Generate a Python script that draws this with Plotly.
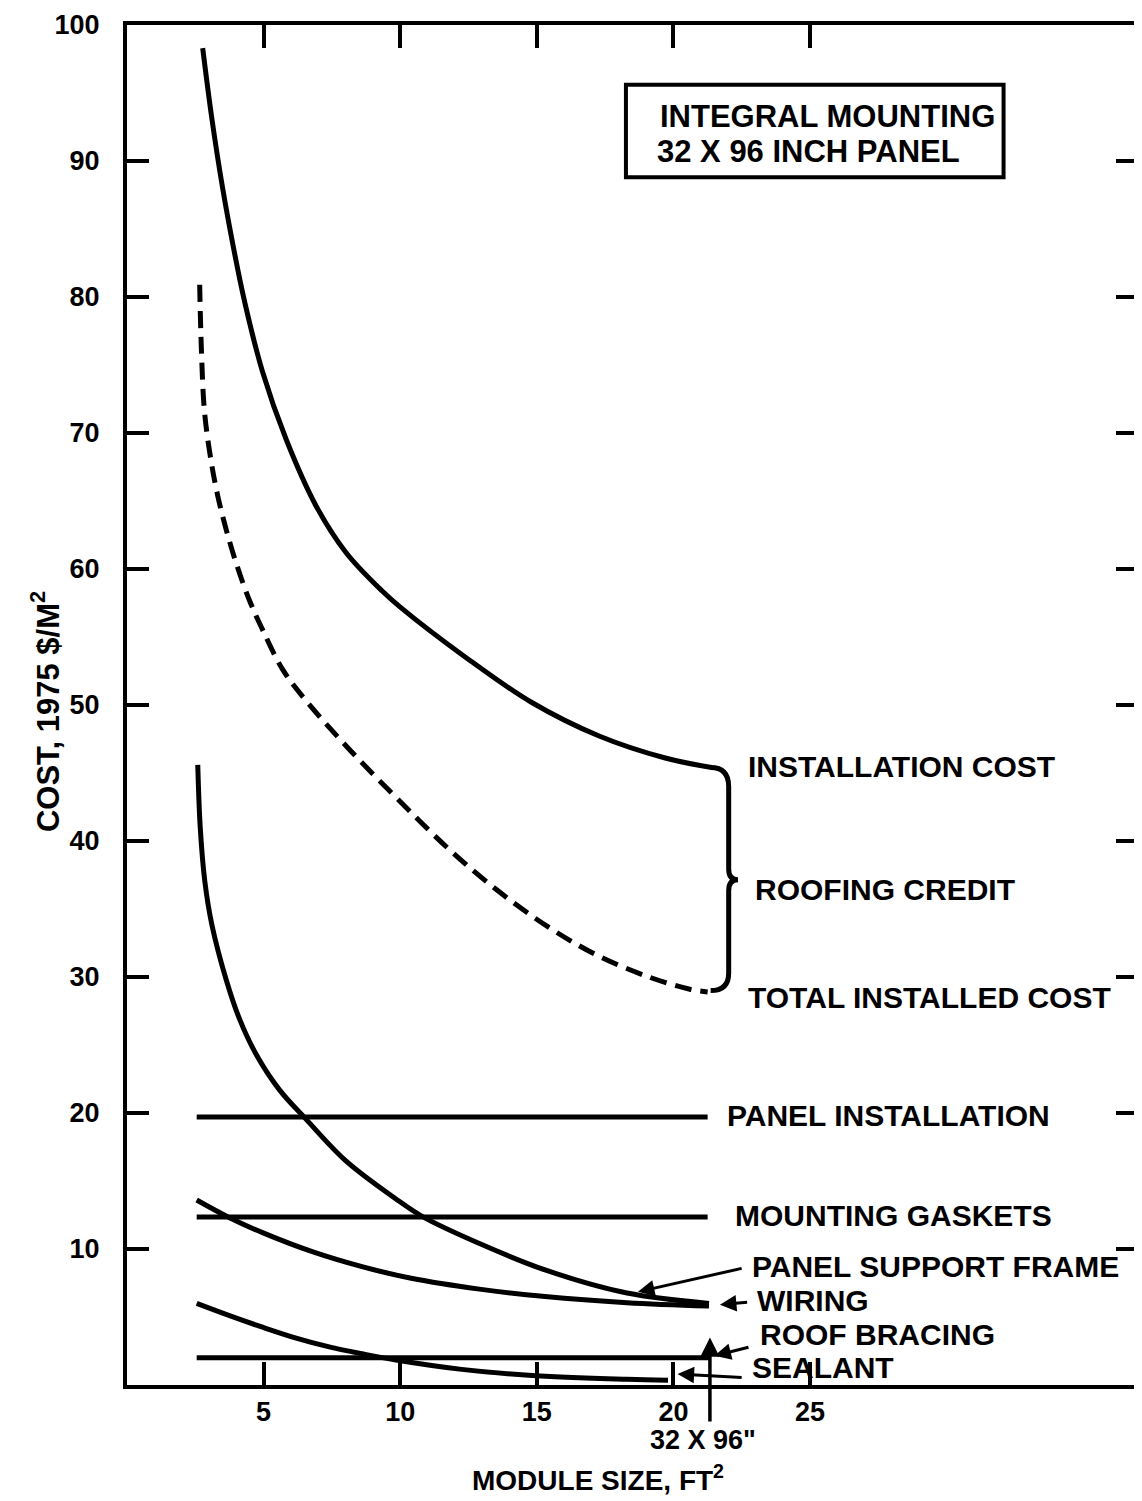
import plotly.graph_objects as go

# ---------------- data ----------------
install_x = [2.77, 3.1, 3.5, 3.9, 4.3, 4.96, 5.83, 6.93, 8.02, 9.33, 10.0, 12.4, 14.8, 17.3, 19.7, 21.4]
install_y = [98.3, 93.2, 88.0, 83.6, 79.7, 74.5, 69.5, 64.6, 61.2, 58.4, 57.2, 53.5, 50.2, 47.7, 46.1, 45.4]

total_x = [2.66, 2.72, 2.84, 3.09, 3.33, 3.63, 4.0, 4.48, 4.97, 5.7, 6.56, 8.2, 9.95, 11.78, 13.6, 15.4, 17.2, 19.1, 20.6, 21.25]
total_y = [80.9, 76.3, 71.5, 67.8, 65.3, 62.9, 60.4, 57.7, 55.5, 52.6, 50.3, 46.6, 43.0, 39.4, 36.3, 33.7, 31.6, 30.0, 29.1, 28.9]

frame_x = [2.59, 2.68, 2.85, 3.1, 3.63, 4.12, 4.73, 5.58, 6.55, 8.0, 9.83, 10.8, 12.9, 15.3, 18.3, 21.3]
frame_y = [45.6, 41.0, 37.0, 33.9, 29.8, 26.9, 24.3, 21.7, 19.55, 16.5, 13.7, 12.4, 10.4, 8.46, 6.76, 6.0]

wiring_x = [2.55, 3.75, 4.96, 6.78, 8.6, 10.4, 12.9, 15.3, 18.3, 21.3]
wiring_y = [13.6, 12.3, 11.2, 9.8, 8.7, 7.85, 7.05, 6.5, 6.05, 5.8]

sealant_x = [2.55, 3.75, 4.96, 6.19, 7.4, 8.6, 9.84, 12.25, 14.7, 18.3, 19.8]
sealant_y = [6.0, 5.1, 4.25, 3.45, 2.8, 2.3, 1.84, 1.15, 0.72, 0.42, 0.35]

panel_install_x = [2.55, 21.25]
panel_install_y = [19.7, 19.7]
gaskets_x = [2.55, 21.25]
gaskets_y = [12.35, 12.35]
bracing_x = [2.55, 21.33]
bracing_y = [2.0, 2.0]

panel_size_ft2 = 32 * 96 / 144  # 32 x 96 inch panel

x_ticks = [5, 10, 15, 20, 25]
y_ticks = [10, 20, 30, 40, 50, 60, 70, 80, 90, 100]

# ---------------- figure ----------------
FONT = "Liberation Sans"
BLK = "black"
LW = 5

fig = go.Figure()

def curve(x, y, dash=None, spline=True):
    fig.add_trace(go.Scatter(
        x=x, y=y, mode="lines", hoverinfo="skip",
        line=dict(color=BLK, width=LW, shape="spline" if spline else "linear",
                  smoothing=1.0 if spline else None, dash=dash)))

curve(install_x, install_y)
curve(total_x, total_y, dash="17px,9px")
curve(frame_x, frame_y)
curve(wiring_x, wiring_y)
curve(sealant_x, sealant_y)
curve(panel_install_x, panel_install_y, spline=False)
curve(gaskets_x, gaskets_y, spline=False)
curve(bracing_x, bracing_y, spline=False)

# curly brace between installation cost and total installed cost ends
top = install_y[-1]
bot = total_y[-1]
bx0 = install_x[-1] - 0.04
bx1 = bx0 + 0.66
tip = bx1 + 0.34
mid = (top + bot) / 2
brace = (f"M {bx0},{top} Q {bx1},{top} {bx1},{top-1.4} "
         f"L {bx1},{mid+0.8} Q {bx1},{mid} {tip},{mid} "
         f"Q {bx1},{mid} {bx1},{mid-0.8} "
         f"L {bx1},{bot+1.4} Q {bx1},{bot+0.1} {bx0},{bot+0.1}")

shapes = [
    dict(type="path", path=brace, xref="x", yref="y",
         line=dict(color=BLK, width=5)),
    dict(type="rect", xref="x", yref="y", x0=18.26, x1=32.08, y0=88.8, y1=95.6,
         line=dict(color=BLK, width=4), fillcolor="white"),
]

lab_font = dict(family=FONT, size=30, color=BLK, weight="bold")
labels = [
    ("INSTALLATION COST", 22.64, 45.5),
    ("ROOFING CREDIT", 22.9, 36.4),
    ("TOTAL INSTALLED COST", 22.64, 28.5),
    ("PANEL INSTALLATION", 21.87, 19.8),
    ("MOUNTING GASKETS", 22.17, 12.5),
    ("PANEL SUPPORT FRAME", 22.79, 8.7),
    ("WIRING", 22.97, 6.2),
    ("ROOF BRACING", 23.08, 3.7),
    ("SEALANT", 22.79, 1.3),
]
annotations = []
for t, x, y in labels:
    annotations.append(dict(text=t, x=x, y=y, xref="x", yref="y", xanchor="left",
                            yanchor="middle", showarrow=False, font=lab_font))

box_font = dict(family=FONT, size=31, color=BLK, weight="bold")
annotations += [
    dict(text="INTEGRAL MOUNTING", x=19.43, y=93.3, xref="x", yref="y",
         xanchor="left", yanchor="middle", showarrow=False, font=box_font),
    dict(text="32 X 96 INCH PANEL", x=19.32, y=90.7, xref="x", yref="y",
         xanchor="left", yanchor="middle", showarrow=False, font=box_font),
]

def arrow(x, y, ax, ay, width=3):
    annotations.append(dict(text="", x=x, y=y, ax=ax, ay=ay, xref="x", yref="y",
                            axref="x", ayref="y", showarrow=True, arrowhead=2,
                            arrowsize=1.1, arrowwidth=width, arrowcolor=BLK))

arrow(18.7, 6.85, 22.55, 8.6)       # panel support frame
arrow(21.7, 5.9, 22.75, 6.1)        # wiring
arrow(21.5, 2.15, 22.8, 2.8)        # roof bracing
arrow(20.15, 0.8, 22.55, 0.55)      # sealant
arrow(panel_size_ft2, 3.5, panel_size_ft2, -2.8, width=3.5)  # 32 x 96 marker

tick_font = dict(family=FONT, size=27, color=BLK, weight="bold")
annotations += [
    dict(text='32 X 96"', x=0.570, y=-0.0404, xref="paper", yref="paper",
         showarrow=False, xanchor="center", yanchor="middle", font=tick_font),
    dict(text="MODULE SIZE, FT<sup>2</sup>", x=0.466, y=-0.0684,
         xref="paper", yref="paper", showarrow=False, xanchor="center",
         yanchor="middle", font=dict(family=FONT, size=28, color=BLK, weight="bold")),
    dict(text="COST, 1975 $/M<sup>2</sup>", x=-0.0808, y=0.495,
         xref="paper", yref="paper", showarrow=False, textangle=-90,
         xanchor="center", yanchor="middle",
         font=dict(family=FONT, size=31, color=BLK, weight="bold")),
]

# the page body adds an 8 px margin, so the figure is offset to compensate
fig.update_layout(
    width=1134, height=1493,
    margin=dict(l=119, r=0, t=17, b=116),
    plot_bgcolor="white", paper_bgcolor="white",
    showlegend=False,
    font=dict(family=FONT, color=BLK),
    shapes=shapes,
    annotations=annotations,
)
fig.update_xaxes(
    range=[0, 37], tickvals=x_ticks, ticktext=[str(v) for v in x_ticks],
    ticks="inside", ticklen=23, tickwidth=4, tickcolor=BLK,
    showline=True, linewidth=4, linecolor=BLK, mirror="ticks",
    showgrid=False, zeroline=False, tickfont=tick_font, ticklabelstandoff=0,
)
fig.update_yaxes(
    range=[0, 100], tickvals=y_ticks, ticktext=[str(v) for v in y_ticks],
    ticks="inside", ticklen=22, tickwidth=4, tickcolor=BLK,
    showline=True, linewidth=4, linecolor=BLK, mirror="ticks",
    showgrid=False, zeroline=False, tickfont=tick_font, ticklabelstandoff=18,
)

fig.write_html("out.html")
